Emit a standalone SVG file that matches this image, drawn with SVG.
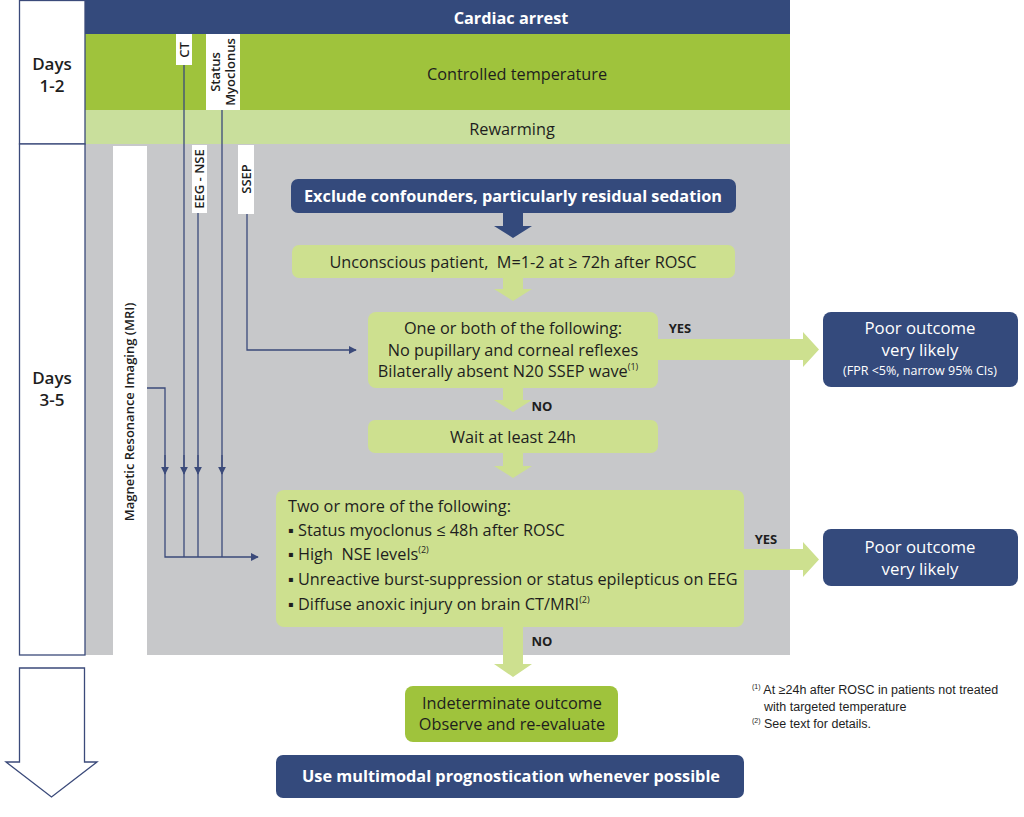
<svg xmlns="http://www.w3.org/2000/svg" width="1024" height="817" viewBox="0 0 1024 817">
<defs>
<style>
text{font-family:"Open Sans","Liberation Sans",sans-serif;fill:#1e1e1e}
.w{fill:#fff}
.b{font-weight:bold}
.c{text-anchor:middle}
.t16{font-size:16.3px}
.lab{font-size:13px;font-weight:600}
.navy{fill:#344a7c}
.lg{fill:#cde08f}
.dg{fill:#9fc33c}
.ln{fill:none;stroke:#3b4a7a;stroke-width:1.3}
.fn{font-size:12.5px;font-family:"Liberation Sans",sans-serif}
</style>
<marker id="ah" viewBox="0 0 10 10" refX="9" refY="5" markerWidth="8" markerHeight="8" markerUnits="userSpaceOnUse" orient="auto">
<path d="M0,0 L10,5 L0,10 z" fill="#3b4a7a"/>
</marker>
</defs>

<g id="background">
<rect x="85" y="0" width="705" height="34" class="navy"/>
<rect x="85" y="34" width="705" height="76" class="dg"/>
<rect x="85" y="110" width="705" height="34" fill="#c9df9c"/>
<rect x="85" y="144" width="705" height="511" fill="#c7c8ca"/>
<text x="511" y="24" class="w b c t16">Cardiac arrest</text>
<text x="517" y="80" class="c t16">Controlled temperature</text>
<text x="512" y="135" class="c t16">Rewarming</text>
</g>

<g id="days12">
<rect x="19.5" y="0.5" width="65.5" height="143.5" fill="#fff" stroke="#3b4a7a" stroke-width="1.3"/>
<text x="52" y="70" class="c" font-size="17" font-weight="600">Days</text>
<text x="52" y="92" class="c" font-size="17" font-weight="600">1-2</text>
</g>
<g id="days35">
<rect x="19.5" y="144" width="65.5" height="511" fill="#fff" stroke="#3b4a7a" stroke-width="1.3"/>
<text x="52" y="384" class="c" font-size="17" font-weight="600">Days</text>
<text x="52" y="406" class="c" font-size="17" font-weight="600">3-5</text>
</g>

<g id="mri">
<rect x="113" y="146" width="34" height="509" fill="#fff"/>
<text transform="translate(134,412) rotate(-90)" class="c lab" font-weight="500">Magnetic Resonance Imaging (MRI)</text>
</g>

<g id="connectors">
<polyline class="ln" points="184,65 184,557"/>
<polyline class="ln" points="222,110 222,557"/>
<polyline class="ln" points="198,213 198,557"/>
<polyline class="ln" points="147,388 165,388 165,557 258,557" marker-end="url(#ah)"/>
<polyline class="ln" points="247,214 247,350 356,350" marker-end="url(#ah)"/>
<line class="ln" x1="165" y1="455" x2="165" y2="474" marker-end="url(#ah)"/>
<line class="ln" x1="184" y1="455" x2="184" y2="474" marker-end="url(#ah)"/>
<line class="ln" x1="198" y1="455" x2="198" y2="474" marker-end="url(#ah)"/>
<line class="ln" x1="222" y1="455" x2="222" y2="474" marker-end="url(#ah)"/>
<polygon class="navy" points="503,212 523,212 523,226 532,226 513,238 494,226 503,226"/>
<polygon class="lg" points="503,278 523,278 523,289 532,289 513,301 494,289 503,289"/>
<polygon class="lg" points="503,387 523,387 523,400 532,400 513,412 494,400 503,400"/>
<polygon class="lg" points="503,453 523,453 523,466 532,466 513,478 494,466 503,466"/>
<polygon class="lg" points="503,626 523,626 523,664 532,664 513,677 494,664 503,664"/>
<polygon class="lg" points="657,339 803,339 803,332 819,349.5 803,367 803,360 657,360"/>
<polygon class="lg" points="743,549 803,549 803,542 819,559.5 803,577 803,570 743,570"/>
<text x="680" y="333" class="c b" font-size="13">YES</text>
<text x="766" y="544" class="c b" font-size="13">YES</text>
<text x="542" y="411" class="c b" font-size="13">NO</text>
<text x="542" y="646" class="c b" font-size="13">NO</text>
</g>

<g id="ct">
<rect x="176" y="34" width="16" height="31" fill="#fff"/>
<text transform="translate(189,50) rotate(-90)" class="c lab">CT</text>
</g>
<g id="status">
<rect x="206" y="34" width="34" height="76" fill="#fff"/>
<text transform="translate(220,72) rotate(-90)" class="c lab">Status</text>
<text transform="translate(235,72) rotate(-90)" class="c lab">Myoclonus</text>
</g>
<g id="eegnse">
<rect x="192" y="145" width="15" height="68" fill="#fff"/>
<text transform="translate(204,179) rotate(-90)" class="c lab">EEG - NSE</text>
</g>
<g id="ssep">
<rect x="238" y="145" width="16" height="69" fill="#fff"/>
<text transform="translate(251,179) rotate(-90)" class="c lab">SSEP</text>
</g>

<g id="exclude">
<rect x="291" y="179" width="445" height="34" rx="7" class="navy"/>
<text x="513" y="202" class="w b c t16">Exclude confounders, particularly residual sedation</text>
</g>

<g id="unconscious">
<rect x="292" y="245" width="443" height="33" rx="7" class="lg"/>
<text x="513" y="268" class="c t16" xml:space="preserve">Unconscious patient,  M=1-2 at ≥ 72h after ROSC</text>
</g>

<g id="oneorboth">
<rect x="368" y="312" width="290" height="76" rx="8" class="lg"/>
<text x="513" y="334" class="c t16">One or both of the following:</text>
<text x="513" y="356" class="c t16">No pupillary and corneal reflexes</text>
<text x="508" y="377" class="c t16">Bilaterally absent N20 SSEP wave<tspan font-size="9" dy="-7">(1)</tspan></text>
</g>

<g id="poor1">
<rect x="823" y="312" width="195" height="75" rx="8" class="navy"/>
<text x="920" y="334" class="w c" font-size="16.8">Poor outcome</text>
<text x="920" y="356" class="w c" font-size="16.8">very likely</text>
<text x="920" y="375" class="w c" font-size="12.5">(FPR &lt;5%, narrow 95% CIs)</text>
</g>

<g id="wait">
<rect x="368" y="420" width="290" height="33" rx="7" class="lg"/>
<text x="513" y="443" class="c t16">Wait at least 24h</text>
</g>

<g id="twoormore">
<rect x="276" y="490" width="468" height="137" rx="8" class="lg"/>
<text x="288" y="512" class="t16">Two or more of the following:</text>
<text x="288" y="536" class="t16">▪ Status myoclonus ≤ 48h after ROSC</text>
<text x="288" y="560" class="t16" xml:space="preserve">▪ High  NSE levels<tspan font-size="9" dy="-7">(2)</tspan></text>
<text x="288" y="585" class="t16">▪ Unreactive burst-suppression or status epilepticus on EEG</text>
<text x="288" y="610" class="t16">▪ Diffuse anoxic injury on brain CT/MRI<tspan font-size="9" dy="-7">(2)</tspan></text>
</g>

<g id="poor2">
<rect x="823" y="529" width="195" height="57" rx="8" class="navy"/>
<text x="920" y="553" class="w c" font-size="16.8">Poor outcome</text>
<text x="920" y="575" class="w c" font-size="16.8">very likely</text>
</g>

<g id="indeterminate">
<rect x="405" y="686" width="213" height="56" rx="8" class="dg"/>
<text x="512" y="709" class="c t16">Indeterminate outcome</text>
<text x="512" y="730" class="c t16">Observe and re-evaluate</text>
</g>

<g id="multimodal">
<rect x="276" y="755" width="468" height="43" rx="7" class="navy"/>
<text x="511" y="782" class="w b c t16">Use multimodal prognostication whenever possible</text>
</g>

<g id="timearrow">
<polygon points="19.5,668 84.5,668 84.5,762 97,762 51.5,797 6,762 19.5,762" fill="#fff" stroke="#3b4a7a" stroke-width="1.3"/>
</g>

<g id="footnotes">
<text x="752" y="694" class="fn"><tspan font-size="7" dy="-5">(1)</tspan><tspan dy="5"> At ≥24h after ROSC in patients not treated</tspan></text>
<text x="764" y="711" class="fn">with targeted temperature</text>
<text x="752" y="728" class="fn"><tspan font-size="7" dy="-5">(2)</tspan><tspan dy="5"> See text for details.</tspan></text>
</g>
</svg>
